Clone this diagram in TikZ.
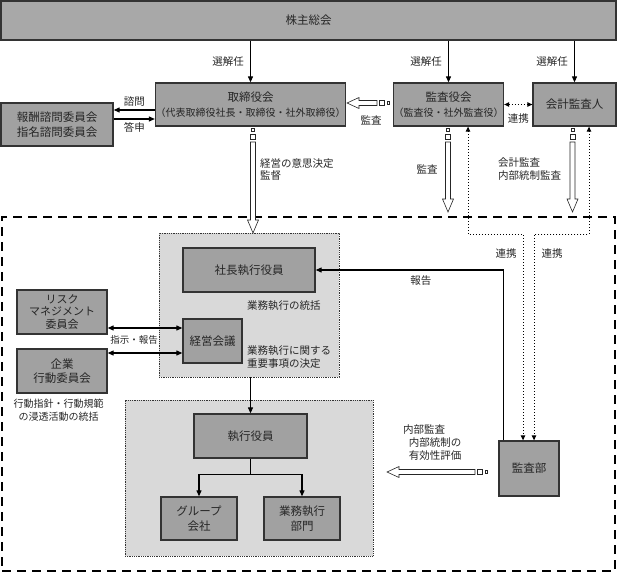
\documentclass[tikz,border=0pt]{standalone}
\usepackage{fontspec}
\setmainfont{Noto Sans CJK JP}
\usetikzlibrary{arrows.meta}

\begin{document}
\begin{tikzpicture}[x=1pt,y=-1pt,font=\fontsize{10.5}{13}\selectfont,
    % styles
    unit/.style={draw=black!80,line width=1.3pt,fill=black!37,text=black!85,inner sep=0pt,
      align=center,font=\fontsize{11.5}{14.5}\selectfont},
    group/.style={draw=black!80,densely dotted,line width=0.8pt,fill=black!15,inner sep=0pt},
    frame/.style={draw=black,line width=1.6pt,dash pattern=on 9pt off 6pt,inner sep=0pt},
    note/.style={text=black!85,inner sep=0pt,align=left},
    link/.style={line width=1.1pt,-{Triangle[length=6pt,width=5pt]}},
    both link/.style={line width=1.1pt,{Triangle[length=6pt,width=5pt]}-{Triangle[length=6pt,width=5pt]}},
    tie/.style={dotted,line width=1pt,{Triangle[length=5pt,width=4.5pt]}-{Triangle[length=5pt,width=4.5pt]}},
    hollow/.style={draw=black!85,fill=white,line width=0.6pt}]

  \useasboundingbox (0,0) rectangle (617,573);

  % company frame and groups
  \node (company) [frame,minimum width=613pt,minimum height=354pt] at (308.5,394) {};
  \node (group) [group,minimum width=180pt,minimum height=144pt] at (249,305) {};
  \node (lower) [group,minimum width=248pt,minimum height=156pt] at (249,478) {};

  % boxes
  \node (top) [unit,fill=black!34,minimum width=615pt,minimum height=39pt] at (308.5,20.5) {株主総会};
  \node (board) [unit,minimum width=187pt,minimum height=43pt] at (250.5,104.5)
    {取締役会\\[1pt]{\fontsize{10}{12}\selectfont （代表取締役社長・取締役・社外取締役）}};
  \node (comp) [unit,minimum width=112pt,minimum height=43pt] at (57,124.5) {報酬諮問委員会\\指名諮問委員会};
  \node (kansayaku) [unit,minimum width=109pt,minimum height=43pt] at (448.5,104.5)
    {監査役会\\[1pt]{\fontsize{10}{12}\selectfont （監査役・社外監査役）}};
  \node (auditor) [unit,minimum width=83pt,minimum height=43pt] at (574.5,104.5) {会計監査人};
  \node (president) [unit,minimum width=132pt,minimum height=44pt] at (249,270) {社長執行役員};
  \node (mgmt) [unit,minimum width=59pt,minimum height=44pt] at (212.5,341) {経営会議};
  \node (risk) [unit,minimum width=90pt,minimum height=44pt,font=\fontsize{11}{12.5}\selectfont] at (62,312) {リスク\\マネジメント\\委員会};
  \node (conduct) [unit,minimum width=90pt,minimum height=44pt] at (62,371) {企業\\行動委員会};
  \node (officers) [unit,minimum width=113pt,minimum height=44pt] at (250.5,436) {執行役員};
  \node (groupco) [unit,minimum width=76pt,minimum height=43pt] at (199,518.5) {グループ\\会社};
  \node (divisions) [unit,minimum width=76pt,minimum height=43pt] at (302,518.5) {業務執行\\部門};
  \node (audit) [unit,minimum width=60pt,minimum height=55pt] at (529,468.5) {監査部};

  % appointment
  \foreach \n in {board,kansayaku,auditor}
    \draw[link] (\n.north |- top.south) -- (\n.north) node[midway,left=6pt,note] {選解任};

  % advisory committees
  \coordinate (ask) at ([yshift=-5.5pt]board.west);
  \coordinate (answer) at ([yshift=-14.5pt]board.west);
  \draw[link] (ask) -- (ask -| comp.east) node[midway,above=3pt,note] {諮問};
  \draw[link] (answer -| comp.east) -- (answer) node[midway,below=3pt,note] {答申};

  % cooperation
  \draw[tie] (kansayaku) -- (auditor) node[midway,below=9pt,note] {連携};
  \draw[tie] ([xshift=19.5pt]kansayaku.south) -- ++(0,108) -| ([xshift=-6pt]audit.north);
  \draw[tie] ([xshift=14.5pt]auditor.south) -- ++(0,108) -| ([xshift=5pt]audit.north);
  \node (tie left) [note] at (506,254) {連携};
  \node (tie right) [note] at (552,254) {連携};

  % committees and management meeting
  \coordinate (order1) at ([yshift=13pt]mgmt.west);
  \coordinate (order2) at ([yshift=-12pt]mgmt.west);
  \draw[both link] (order1 -| risk.east) -- (order1);
  \draw[both link] (order2 -| conduct.east) -- (order2);
  \node (order label) [note,font=\fontsize{9.5}{12}\selectfont] at (134,340) {指示・報告};

  % execution
  \draw[link] (group.south -| officers.north) -- (officers.north);
  \draw[link] (officers.south) -- ++(0,16) -| (groupco.north);
  \draw[link] (officers.south) -- ++(0,16) -| (divisions.north);

  % report
  \draw[link] ([xshift=5pt]audit.north west) |- (president.east) node[pos=0.72,below=5pt,note] {報告};

  % hollow arrows
  \foreach \x/\tip in {253/233,448/212,572.5/212} {
    \draw[hollow] (\x-1.5,128) rectangle (\x+1.5,131);
    \draw[hollow] (\x-2.5,134) rectangle (\x+2.5,139);
    \draw[hollow] (\x-2.5,142) -- (\x+2.5,142) -- (\x+2.5,\tip-13) -- (\x+5.5,\tip-13)
      -- (\x,\tip) -- (\x-5.5,\tip-13) -- (\x-2.5,\tip-13) -- cycle;
  }
  \foreach \y/\tip/\tail in {103/347/377,472/387/475} {
    \draw[hollow] (\tail+10,\y-1.5) rectangle (\tail+12,\y+1.5);
    \draw[hollow] (\tail+2,\y-2.5) rectangle (\tail+7,\y+2.5);
    \draw[hollow] (\tail,\y-2.5) -- (\tail,\y+2.5) -- (\tip+12,\y+2.5) -- (\tip+12,\y+5.5)
      -- (\tip,\y) -- (\tip+12,\y-5.5) -- (\tip+12,\y-2.5) -- cycle;
  }

  % text
  \node (audit note) [note] at (371,120) {監査};
  \node (board note) [note,anchor=west] at (260,169.5) {経営の意思決定\\監督};
  \node (kansa note) [note] at (427,169) {監査};
  \node (account note) [note,anchor=west] at (498,169.5) {会計監査\\内部統制監査};
  \node (lead note) [note,anchor=west] at (247,306) {業務執行の統括};
  \node (meeting note) [note,anchor=west] at (247,357.5) {業務執行に関する\\重要事項の決定};
  \node (conduct note) [note,align=center,font=\fontsize{10}{12.5}\selectfont] at (58.5,410) {行動指針・行動規範\\の浸透活動の統括};
  \node (internal note) [note,anchor=west] at (403,443) {内部監査\\\hspace*{0.55em}内部統制の\\\hspace*{0.55em}有効性評価};
\end{tikzpicture}
\end{document}
